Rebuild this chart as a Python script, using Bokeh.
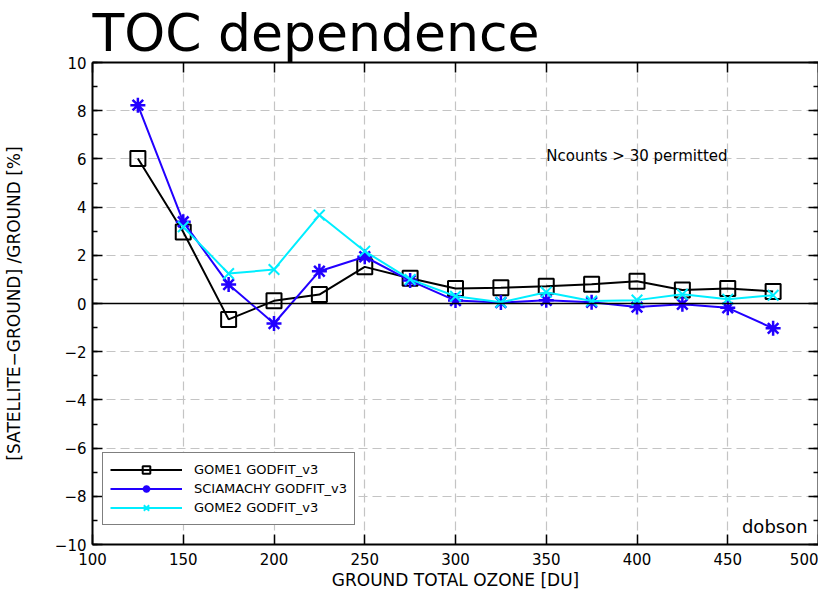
from bokeh.plotting import figure
from bokeh.models import (Range1d, LinearAxis, FixedTicker, Span, Label, Legend, LegendItem)
from bokeh.embed import file_html
from bokeh.resources import INLINE

# ---- data ----
ozone = [125, 150, 175, 200, 225, 250, 275, 300, 325, 350, 375, 400, 425, 450, 475]
gome1 = [6.02, 2.97, -0.66, 0.11, 0.37, 1.52, 1.05, 0.62, 0.65, 0.72, 0.80, 0.92, 0.56, 0.62, 0.50]
sciamachy = [8.23, 3.39, 0.79, -0.83, 1.34, 1.94, 0.95, 0.12, 0.04, 0.13, 0.05, -0.15, -0.03, -0.18, -1.03]
ozone_g2 = [150, 175, 200, 225, 250, 275, 300, 325, 350, 375, 400, 425, 450, 475]
gome2 = [3.18, 1.24, 1.41, 3.67, 2.17, 1.00, 0.30, 0.05, 0.47, 0.10, 0.14, 0.38, 0.18, 0.34]

x_ticks = [100, 150, 200, 250, 300, 350, 400, 450, 500]
y_ticks = [-10, -8, -6, -4, -2, 0, 2, 4, 6, 8, 10]
y_minor = list(range(-10, 11))

FONT = "DejaVu Sans"

p = figure(frame_width=726, frame_height=482, output_backend="svg", toolbar_location=None,
           x_range=Range1d(100, 500), y_range=Range1d(-10, 10),
           min_border_left=87, min_border_right=0, min_border_top=0, min_border_bottom=0,
           title="TOC dependence")
p.outline_line_color = None
p.background_fill_color = "white"
p.title.text_font = FONT
p.title.text_font_size = "52px"
p.title.text_font_style = "normal"
p.title.text_color = "black"
p.title.align = "left"
p.title.standoff = 0
p.title.offset = 0

def style_axis(ax, labels=True):
    ax.axis_line_width = 2
    ax.axis_line_color = "black"
    ax.major_tick_in = 10
    ax.major_tick_out = 0
    ax.minor_tick_in = 5
    ax.minor_tick_out = 0
    ax.major_tick_line_width = 1.5
    ax.minor_tick_line_width = 1.5
    ax.major_tick_line_color = "black"
    ax.minor_tick_line_color = "black"
    ax.major_label_text_font = FONT
    ax.major_label_text_font_size = "15px" if labels else "0px"
    ax.major_label_text_color = "black"
    ax.axis_label_text_font = FONT
    ax.axis_label_text_font_style = "normal"
    ax.axis_label_text_font_size = "17px"
    ax.axis_label_text_color = "black"
    if not labels:
        ax.major_label_standoff = 0
        ax.axis_label_standoff = 0

xt = FixedTicker(ticks=x_ticks)
yt = FixedTicker(ticks=y_ticks, minor_ticks=y_minor)

xa = p.xaxis[0]
xa.ticker = xt
xa.axis_label = "GROUND TOTAL OZONE [DU]"
style_axis(xa)
xa.major_label_standoff = 8
xa.axis_label_standoff = 2

ya = p.yaxis[0]
ya.ticker = yt
ya.axis_label = "[SATELLITE\u2212GROUND] /GROUND [%]"
style_axis(ya)
ya.major_label_standoff = 6
ya.axis_label_standoff = 28

top = LinearAxis(ticker=FixedTicker(ticks=x_ticks))
style_axis(top, labels=False)
p.add_layout(top, "above")
right = LinearAxis(ticker=FixedTicker(ticks=y_ticks, minor_ticks=y_minor))
style_axis(right, labels=False)
p.add_layout(right, "right")

for g in (p.xgrid[0], p.ygrid[0]):
    g.grid_line_color = "#c4c4c4"
    g.grid_line_dash = "9 5"
    g.grid_line_width = 1.2
p.xgrid[0].ticker = xt
p.ygrid[0].ticker = yt

p.add_layout(Span(location=0, dimension="width", line_color="black", line_width=1.5))

# series
l1 = p.line(ozone, gome1, line_color="black", line_width=2)
m1 = p.scatter(ozone, gome1, marker="square", size=15, fill_color=None, line_color="black", line_width=2)
l2 = p.line(ozone, sciamachy, line_color="#2200ff", line_width=2)
m2 = p.scatter(ozone, sciamachy, marker="asterisk", size=15, line_color="#2200ff", line_width=2.5)
l3 = p.line(ozone_g2, gome2, line_color="#00eeff", line_width=2)
m3 = p.scatter(ozone_g2, gome2, marker="x", size=15, line_color="#00eeff", line_width=2)

legend = Legend(items=[
    LegendItem(label="GOME1 GODFIT_v3", renderers=[l1, m1]),
    LegendItem(label="SCIAMACHY GODFIT_v3", renderers=[l2, m2]),
    LegendItem(label="GOME2 GODFIT_v3", renderers=[l3, m3]),
], location=(10, 19))
legend.border_line_color = "black"
legend.border_line_width = 1
legend.background_fill_color = "white"
legend.background_fill_alpha = 1
legend.padding = 7
legend.margin = 0
legend.spacing = 0
legend.glyph_width = 72
legend.glyph_height = 19
legend.label_height = 19
legend.label_standoff = 12
legend.label_width = 150
legend.label_text_font = FONT
legend.label_text_font_size = "13px"
legend.label_text_color = "black"
p.add_layout(legend)

p.add_layout(Label(x=350, y=6.1, text="Ncounts > 30 permitted", text_font=FONT,
                   text_font_size="15px", text_baseline="middle", text_color="black"))
p.add_layout(Label(x=494, y=-9.25, text="dobson", text_font=FONT, text_font_size="18px",
                   text_align="right", text_baseline="middle", text_color="black"))

open("out.html", "w").write(file_html(p, INLINE))
